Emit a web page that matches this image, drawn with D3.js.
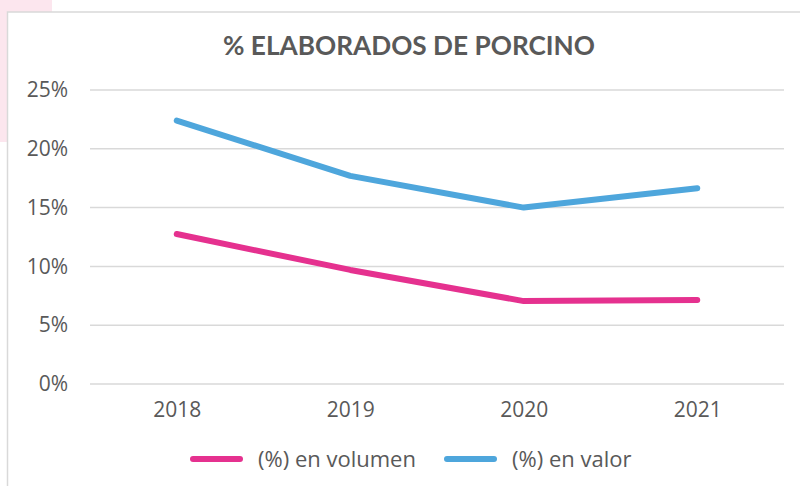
<!DOCTYPE html>
<html>
<head>
<meta charset="utf-8">
<script src="https://cdn.jsdelivr.net/npm/d3@7/dist/d3.min.js"></script>
<style>
  body { margin: 0; background: #fff; }
  text { font-family: "Open Sans", Lato, sans-serif; fill: #595959; }
</style>
</head>
<body>
<svg id="canvas" width="800" height="486"></svg>
<script>
// data
const years = ["2018", "2019", "2020", "2021"]
const volumen = [12.75, 9.7, 7.05, 7.15]
const valor = [22.4, 17.7, 15.0, 16.65]
const yTicks = [0, 5, 10, 15, 20, 25]
const seriesNames = ["(%) en volumen", "(%) en valor"]
const seriesColors = ["#e5318f", "#4ea6dc"]

const svg = d3.select('#canvas')

// pinkish backdrop outside the chart frame
svg.append('rect').attr('x', 0).attr('y', 0).attr('width', 52).attr('height', 12).attr('fill', '#fce6ee')
svg.append('rect').attr('x', 0).attr('y', 0).attr('width', 8).attr('height', 142).attr('fill', '#fce6ee')
// chart frame
svg.append('rect').attr('x', 7.5).attr('y', 12).attr('width', 800).attr('height', 490)
  .attr('fill', '#fff').attr('stroke', '#d9d9d9').attr('stroke-width', 1.5)

// title
svg.append('text')
  .attr('x', 409).attr('y', 55)
  .attr('text-anchor', 'middle')
  .attr('textLength', 372).attr('lengthAdjust', 'spacingAndGlyphs')
  .style('font-family', 'Lato, sans-serif')
  .style('font-size', '27px').style('font-weight', 'bold')
  .text('% ELABORADOS DE PORCINO')

const x = d3.scalePoint().domain(years).range([90, 784]).padding(0.5)
const y = d3.scaleLinear().domain([0, 25]).range([384, 90])

// gridlines
svg.append('g')
  .selectAll('line')
  .data(yTicks)
  .enter()
  .append('line')
  .attr('x1', 90).attr('x2', 784)
  .attr('y1', d => y(d)).attr('y2', d => y(d))
  .attr('stroke', '#d9d9d9').attr('stroke-width', 1.5)

// y axis labels
const yAxis = svg.append('g')
  .attr('transform', 'translate(68,0)')
  .call(d3.axisLeft(y).tickValues(yTicks).tickFormat(d => d + '%').tickSize(0).tickPadding(0))
yAxis.select('.domain').remove()
yAxis.selectAll('text').style('font-size', '21px').attr('fill', '#595959')

// x axis labels
const xAxis = svg.append('g')
  .attr('transform', 'translate(0,384)')
  .call(d3.axisBottom(x).tickSize(0).tickPadding(18))
xAxis.select('.domain').remove()
xAxis.selectAll('text').style('font-size', '21px').attr('fill', '#595959')

// lines
const line = d3.line().x((d, i) => x(years[i])).y(d => y(d))
const series = [volumen, valor]
svg.append('g')
  .selectAll('path')
  .data(series)
  .enter()
  .append('path')
  .attr('d', d => line(d))
  .attr('fill', 'none')
  .attr('stroke', (d, i) => seriesColors[i])
  .attr('stroke-width', 6)
  .attr('stroke-linecap', 'round')
  .attr('stroke-linejoin', 'round')

// legend
const legendX = [193, 447]
const lg = svg.append('g')
  .selectAll('g')
  .data(seriesNames)
  .enter()
  .append('g')
  .attr('transform', (d, i) => `translate(${legendX[i]},459)`)
lg.append('line')
  .attr('x1', 0).attr('x2', 47).attr('y1', 0).attr('y2', 0)
  .attr('stroke', (d, i) => seriesColors[i])
  .attr('stroke-width', 6)
  .attr('stroke-linecap', 'round')
lg.append('text')
  .attr('x', 65).attr('y', 8)
  .style('font-size', '22px')
  .text(d => d)
</script>
</body>
</html>
